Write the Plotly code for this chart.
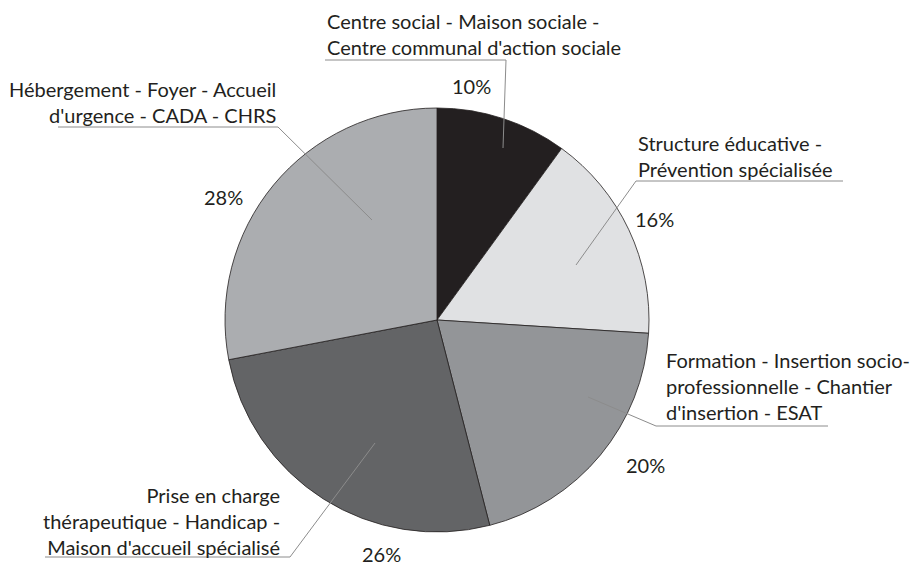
import plotly.graph_objects as go

# ---- data ----
categories = [
    "Centre social - Maison sociale -<br>Centre communal d'action sociale",
    "Structure éducative -<br>Prévention spécialisée",
    "Formation - Insertion socio-<br>professionnelle - Chantier<br>d'insertion - ESAT",
    "Prise en charge<br>thérapeutique - Handicap -<br>Maison d'accueil spécialisé",
    "Hébergement - Foyer - Accueil<br>d'urgence - CADA - CHRS",
]
values = [10, 16, 20, 26, 28]
colors = ["#231f20", "#e0e1e3", "#939598", "#636466", "#abadb0"]

# ---- layout helpers (pixel -> paper) ----
W, H = 919, 567
def px(x):
    return x / W
def py(y):
    return 1 - y / H

FONT = "Lato"
FS = 20
TXT = "#231f20"
LEAD = "#8c8c8c"

fig = go.Figure()
fig.add_trace(go.Pie(
    labels=[c.replace("<br>", " ") for c in categories],
    values=values,
    sort=False,
    direction="clockwise",
    rotation=0,
    textinfo="none",
    hoverinfo="label+percent",
    marker=dict(colors=colors, line=dict(color="#231f20", width=0.8)),
    domain=dict(x=[px(225), px(649)], y=[py(532), py(108)]),
    showlegend=False,
))

# label layout: (x, y, xanchor, align) for category texts
label_pos = [
    (325, 34.5, "left", "left"),
    (636, 156.5, "left", "left"),
    (664, 386, "left", "left"),
    (282, 521, "right", "right"),
    (278, 101.5, "right", "right"),
]
# percent label centres
pct_pos = [(471, 86), (654, 219), (645, 465), (381, 554), (223, 197)]
# underline (x0, x1, y) and leader (x0, y0, x1, y1)
underlines = [
    (325, 506, 60, 506, 60, 503, 148),
    (636, 843, 181, 636, 181, 576, 265),
    (656, 828, 426, 656, 426, 588, 397),
    (45, 290, 557, 290, 557, 375, 443),
    (58, 278, 127, 278, 127, 372, 220),
]

annotations = []
shapes = []
for i, cat in enumerate(categories):
    x, y, xa, al = label_pos[i]
    annotations.append(dict(
        x=px(x), y=py(y), xref="paper", yref="paper", text=cat,
        showarrow=False, xanchor=xa, yanchor="middle", align=al,
        font=dict(family=FONT, size=FS, color=TXT),
    ))
    cx, cy = pct_pos[i]
    annotations.append(dict(
        x=px(cx), y=py(cy), xref="paper", yref="paper", text=f"{values[i]}%",
        showarrow=False, xanchor="center", yanchor="middle",
        font=dict(family=FONT, size=FS, color=TXT),
    ))
    u0, u1, uy, lx0, ly0, lx1, ly1 = underlines[i]
    shapes.append(dict(type="line", xref="paper", yref="paper",
                       x0=px(u0), x1=px(u1), y0=py(uy), y1=py(uy),
                       line=dict(color=LEAD, width=1)))
    shapes.append(dict(type="line", xref="paper", yref="paper",
                       x0=px(lx0), x1=px(lx1), y0=py(ly0), y1=py(ly1),
                       line=dict(color=LEAD, width=1)))

fig.update_layout(
    width=W, height=H,
    margin=dict(l=0, r=0, t=0, b=0),
    paper_bgcolor="white", plot_bgcolor="white",
    annotations=annotations, shapes=shapes,
    font=dict(family=FONT),
)
fig.write_html(
    "out.html",
    config={"displayModeBar": False},
    post_script="document.body.style.margin='0';document.body.style.overflow='hidden';",
)
